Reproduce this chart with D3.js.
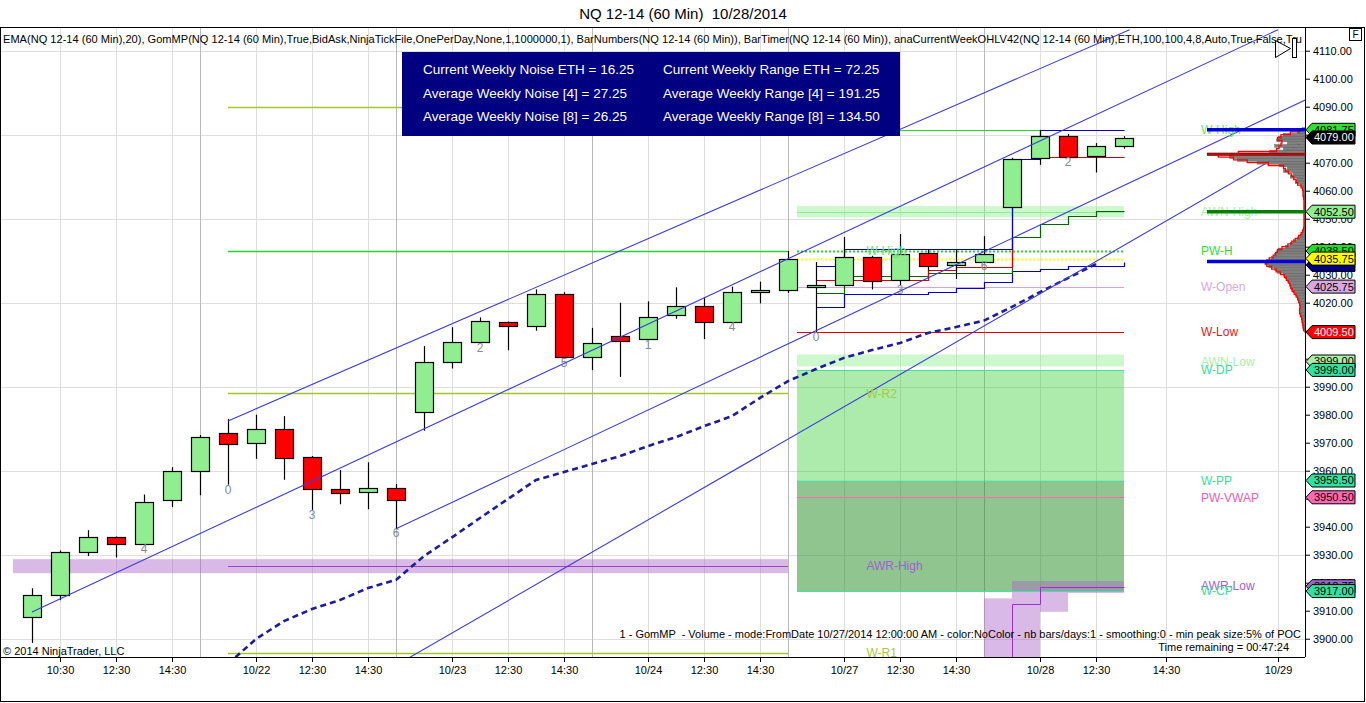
<!DOCTYPE html>
<html>
<head>
<meta charset="utf-8">
<script src="https://cdn.jsdelivr.net/npm/d3@7"></script>
<style>
  body { margin: 0; background: #fff; overflow: hidden; }
  text { font-family: "Liberation Sans", Arial, sans-serif; white-space: pre; }
</style>
</head>
<body>
<svg id="chart" width="1366" height="703"></svg>
<script>
// ---- bars (60 min, index 0 = first bar on screen) ----
var barOpen  = [3907.5,3915.5,3931,3936.25,3934,3949.5,3960,3973.5,3969.75,3975,3964.75,3953.5,3952.5,3954,
                3981,3998.75,4006,4013,4011.5,4023,4000.5,4008,4007,4015.5,4018.75,4013,4023.75,4024.5,
                4025.75,4026.5,4036.5,4028,4037.75,4033.5,4034.75,4054.5,4071.75,4079.5,4072.5,4076];
var barHigh  = [3918,3931.5,3938.75,3936.5,3951.5,3961.25,3972.75,3978.5,3980,3979.5,3965.25,3960.25,3963,3955.25,
                4004.5,4011.25,4014.75,4013.25,4024.75,4023.75,4011,4020,4020.5,4025.5,4022,4025.75,4027.5,4038.5,
                4034.5,4043.5,4036.75,4044.5,4039,4039,4043.75,4071.75,4081.75,4080.25,4077,4079.5];
var barLow   = [3898.5,3913.75,3929.5,3929,3934,3947,3951.25,3955,3964.25,3956.75,3946,3948,3946.25,3939.5,
                3974.25,3996.5,4005.5,4003,4010,4000.25,3996,3993.5,4006.75,4014.25,4007,4013,4019.75,4023.5,
                4009.5,4026.5,4024.75,4026.25,4031.5,4028.5,4034.75,4054.5,4069.25,4072,4066.5,4075];
var barClose = [3915.5,3931,3936.25,3933.75,3949,3960,3972,3969.75,3974.75,3964.5,3953.5,3952.25,3954,3949.75,
                3998.75,4006,4013.5,4011.5,4023,4000.5,4005.5,4006.25,4014.75,4018.75,4013,4023.75,4024.5,4035.5,
                4026.5,4036.5,4028,4037.25,4033,4034.5,4037.5,4071.5,4079.5,4072,4076,4079];

// bar numbers printed under some bars
var barNumIdx  = [4,7,10,13,16,19,22,25,28,31,34,37];
var barNumText = ["4","0","3","6","2","5","1","4","0","3","6","2"];

// EMA(20), bars 7..38
var emaStart = 7;
var emaVals = [3891,3899.9,3906.3,3910.6,3913.8,3918.1,3921,3929.5,3936.2,3943.1,3949.9,3956.7,3959.5,3962.4,
               3965.2,3968.8,3972,3975.9,3979.5,3986,3992,3996.3,4000.3,4003.1,4005.6,4009.2,4011.3,4013.6,
               4018.5,4023.8,4028.8,4033.8];

// x axis
var xTickIdx = [1,3,5,8,10,12,15,17,19,22,24,26,29,31,33,36,38,40.5,44.5];
var xTickLab = ["10:30","12:30","14:30","10/22","12:30","14:30","10/23","12:30","14:30","10/24","12:30","14:30",
                "10/27","12:30","14:30","10/28","12:30","14:30","10/29"];
var sessionBreaks = [6,13,20,27,34];

// y axis
var yTicks = [3900,3910,3920,3930,3940,3950,3960,3970,3980,3990,4000,4010,4020,4030,4040,4050,4060,4070,4080,4090,4100,4110];
var yGrid  = [3900,3930,3960,3990,4020,4050,4080,4110];

// hand drawn trend lines (bar index / price anchors)
var chanI0 = [7, 0, 13, 13];
var chanP0 = [3977.75, 3909.5, 3939.25, 3890.5];
var chanI1 = [39.2, 44.5, 45.5, 45.5];
var chanP1 = [4117.5, 4117.5, 4092.5, 4078];

// weekly levels
var prevWeekFrom = 7, prevWeekTo = 27;
var prevNames  = ["PW-R3","PW-H","W-R2","AWR-High","W-R1"];
var prevPrices = [4090, 4038.5, 3987.6, 3925.9, 3894.8];
var awrHighBand = [-0.68, 27, 3923.4, 3928.4];

var curFrom = 27.32, curTo = 39;
var curNames  = ["W-High","PW-H","PW-C","W-Open","W-Low","W-DP","W-PP","PW-VWAP","W-CP"];
var curPrices = [4081.75, 4038.5, 4035.75, 4025.75, 4009.5, 3996, 3956.5, 3950.5, 3917];
var awnHigh = [4050.5, 4054.5];
var awnLow  = [3997.25, 4001.5];

// AWR-Low projection pieces [i0, i1, priceLow, priceHigh]
var awrLowI0 = [34, 35, 36, 35];
var awrLowI1 = [35, 36, 37, 39];
var awrLowP0 = [3885, 3885, 3909.6, 3916.3];
var awrLowP1 = [3914.4, 3916.3, 3916.3, 3920.6];
var awrStepIdx = [35, 35, 36, 39];
var awrStepVal = [3885, 3912.25, 3918.5, 3918.5];

// developing weekly lines (step after, bar index -> price)
var blueHiIdx = [28, 29, 35, 36, 39];
var blueHiVal = [4033.1, 4039.3, 4071.4, 4081.75, 4081.75];
var blueLoIdx = [28, 29, 32, 33, 34, 35, 36, 37, 39];
var blueLoVal = [4018.6, 4023.1, 4023.7, 4025.4, 4027.3, 4031.4, 4032, 4033.2, 4034.4];
var greenIdx  = [28, 29, 32, 35, 36, 37, 38, 39];
var greenVal  = [4023.4, 4029.5, 4030.5, 4043.4, 4048.2, 4051, 4052.9, 4052.9];
var redIdx    = [28, 32, 33, 35, 36, 39];
var redVal    = [4028, 4031.6, 4032.8, 4071.2, 4072.1, 4072.1];

// labels
var midLabIdx = 29.8;
var midNames  = ["W-High","W-R2","AWR-High","W-R1"];
var midPrices = [4038.5, 3987.6, 3925.9, 3894.8];
var rightLabIdx = 41.75;
var rightNames  = ["W-High","AWN-High","PW-H","W-Open","W-Low","AWN-Low","W-DP","W-PP","PW-VWAP","AWR-Low","W-CP"];
var rightPrices = [4081.75, 4052.5, 4038.5, 4025.75, 4009.5, 3999, 3996, 3956.5, 3950.5, 3918.75, 3917];

// price tags on the axis (drawn in this order)
var tagPrices = [4081.75, 4038.5, 4033.5, 3999, 3918.75, 4079, 4052.5, 4035.75, 4025.75, 4009.5, 3996, 3956.5, 3950.5, 3917];
var tagNames  = ["W-High","PW-H","POC","AWN-Low","AWR-Low","Last","AWN-High","PW-C","W-Open","W-Low","W-DP","W-PP","PW-VWAP","W-CP"];

// volume profile (GomMP), 1 point rows from 4010, % of POC
var profStart = 4010;
var profVol = [1,2,2,3,3,4,5,6,5,5,6,7,8,10,12,14,15,16,18,20,22,28,31,37,41,39,34,31,29,27,20,15,12,8,5,3,2,1,
               1,1,1,1,1,1,1,1,1,1,2,2,2,3,5,10,8,15,12,22,18,26,49,69,77,100,36,22,31,18,29,27,22,8,3];
var profMarkPrices = [4081.75, 4073, 4052.5, 4034.75];
var profMarkNames  = ["W-High","POC","AWN-High","VA"];

var infoLeft  = ["Current Weekly Noise ETH = 16.25","Average Weekly Noise [4] = 27.25","Average Weekly Noise [8] = 26.25"];
var infoRight = ["Current Weekly Range ETH = 72.25","Average Weekly Range [4] = 191.25","Average Weekly Range [8] = 134.50"];

// ---- colours ----
var levelColor = {
  "PW-R3":"#a2c828","W-R2":"#a2c828","W-R1":"#a2c828","PW-H":"#2ed02e","AWR-High":"#a040d0",
  "W-High":"#2ed02e","AWN-High":"#90ee90","PW-C":"#ffff00","W-Open":"#dda0dd","W-Low":"#dd0000",
  "AWN-Low":"#90ee90","W-DP":"#3ce6a0","W-PP":"#3ce6a0","PW-VWAP":"#ff69b4","W-CP":"#3ce6a0",
  "AWR-Low":"#9932cc","POC":"#000080","Last":"#000000"
};
var labelColor = {
  "W-High":"#70e070","AWN-High":"#a8eea8","PW-H":"#33dd33","W-Open":"#d8a8e0","W-Low":"#e02020",
  "AWN-Low":"#a8eea8","W-DP":"#3cdc9a","W-PP":"#3cdc9a","PW-VWAP":"#f060a8","AWR-Low":"#a060d0",
  "W-CP":"#3cdc9a","W-R2":"#a8c840","W-R1":"#a8c840","AWR-High":"#a060d0"
};
var tagColor = {
  "W-High":"#33dd33","PW-H":"#22dd22","POC":"#000080","AWN-Low":"#a8f0a8","AWR-Low":"#9966cc","Last":"#000",
  "AWN-High":"#90ee90","PW-C":"#ffff00","W-Open":"#d8a8e0","W-Low":"#ff0000","W-DP":"#33e0a0","W-PP":"#33e0a0",
  "PW-VWAP":"#ff69b4","W-CP":"#33e0a0"
};

// ---- layout ----
var plot = {left: 1, top: 27, right: 1305, bottom: 657};
var svg = d3.select("#chart");

var x = d3.scaleLinear().domain([0, 45]).range([32, 1292]);
var y = d3.scaleLinear().domain([3900, 4110]).range([638.7, 50.7]);
var px = function(i) { return Math.round(x(i)) + 0.5; };
var py = function(p) { return Math.round(y(p)) + 0.5; };

svg.append("defs").append("clipPath").attr("id", "clip")
  .append("rect")
    .attr("x", plot.left).attr("y", plot.top)
    .attr("width", plot.right - plot.left).attr("height", plot.bottom - plot.top);

// title
svg.append("text")
  .attr("x", 683).attr("y", 19).attr("text-anchor", "middle")
  .style("font-size", "15px")
  .text("NQ 12-14 (60 Min)  10/28/2014");

var g = svg.append("g").attr("clip-path", "url(#clip)");

// grid
g.selectAll(".hgrid").data(yGrid).enter().append("line")
  .attr("x1", plot.left).attr("x2", plot.right)
  .attr("y1", py).attr("y2", py)
  .attr("stroke", "#dedede");
g.selectAll(".vgrid").data(xTickIdx).enter().append("line")
  .attr("x1", px).attr("x2", px)
  .attr("y1", plot.top).attr("y2", plot.bottom)
  .attr("stroke", "#dedede");
g.selectAll(".sgrid").data(sessionBreaks).enter().append("line")
  .attr("x1", px).attr("x2", px)
  .attr("y1", plot.top).attr("y2", plot.bottom)
  .attr("stroke", "#b9b9b9");

// zones of the current week
function zone(i0, i1, p0, p1, fill, op) {
  g.append("rect")
    .attr("x", x(i0)).attr("width", x(i1) - x(i0))
    .attr("y", y(Math.max(p0, p1))).attr("height", Math.abs(y(p0) - y(p1)))
    .attr("fill", fill).attr("opacity", op);
}
var pDP = curPrices[curNames.indexOf("W-DP")];
var pPP = curPrices[curNames.indexOf("W-PP")];
var pCP = curPrices[curNames.indexOf("W-CP")];
zone(curFrom, curTo, pDP, pPP, "#32cd32", 0.4);
zone(curFrom, curTo, pPP, pCP, "#228b22", 0.5);
zone(curFrom, curTo, awnHigh[0], awnHigh[1], "#90ee90", 0.45);
zone(curFrom, curTo, awnLow[0], awnLow[1], "#90ee90", 0.45);
zone(awrHighBand[0], awrHighBand[1], awrHighBand[2], awrHighBand[3], "#aa64c8", 0.45);
awrLowI0.forEach(function(d, k) {
  zone(awrLowI0[k], awrLowI1[k], awrLowP0[k], awrLowP1[k], "#aa64c8", 0.45);
});

// previous week levels
g.selectAll(".prev").data(prevNames).enter().append("line")
  .attr("x1", x(prevWeekFrom)).attr("x2", x(prevWeekTo))
  .attr("y1", function(d, k) { return py(prevPrices[k]); })
  .attr("y2", function(d, k) { return py(prevPrices[k]); })
  .attr("stroke", function(d) { return levelColor[d]; })
  .attr("stroke-width", function(d) { return d == "AWR-High" ? 1 : 1.4; });

// current week levels
g.selectAll(".cur").data(curNames).enter().append("line")
  .attr("x1", x(curFrom)).attr("x2", x(curTo))
  .attr("y1", function(d, k) { return py(curPrices[k]); })
  .attr("y2", function(d, k) { return py(curPrices[k]); })
  .attr("stroke", function(d) { return levelColor[d]; })
  .attr("stroke-width", function(d) { return (d == "PW-H" || d == "PW-C") ? 2 : 1.2; })
  .attr("stroke-dasharray", function(d) { return (d == "PW-H" || d == "PW-C") ? "2,2" : null; });
g.append("line")
  .attr("x1", x(curFrom)).attr("x2", x(curTo))
  .attr("y1", py(4052.5)).attr("y2", py(4052.5))
  .attr("stroke", "#90ee90");

// AWR-Low step
var stepLine = d3.line()
  .x(function(d) { return px(d[0]); })
  .y(function(d) { return py(d[1]); })
  .curve(d3.curveStepAfter);
g.append("path")
  .datum(d3.zip(awrStepIdx, awrStepVal))
  .attr("d", stepLine)
  .attr("fill", "none").attr("stroke", "#9932cc");

// developing lines
[[blueLoIdx, blueLoVal, "#0000c8"], [greenIdx, greenVal, "#006400"],
 [redIdx, redVal, "#d00000"], [blueHiIdx, blueHiVal, "#0000c8"]].forEach(function(s) {
  g.append("path")
    .datum(d3.zip(s[0], s[1]))
    .attr("d", stepLine)
    .attr("fill", "none").attr("stroke", s[2]).attr("stroke-width", 1.2);
});

// EMA
g.append("path")
  .datum(emaVals)
  .attr("d", d3.line()
    .x(function(d, k) { return x(emaStart + k); })
    .y(function(d) { return y(d); }))
  .attr("fill", "none")
  .attr("stroke", "#1c1c9c")
  .attr("stroke-width", 2.6)
  .attr("stroke-dasharray", "6,4");

// candles
var bars = barOpen.map(function(o, i) {
  return {i: i, o: o, h: barHigh[i], l: barLow[i], c: barClose[i]};
});
var bw = 18;
var cg = g.selectAll(".candle").data(bars).enter().append("g");
cg.append("line")
  .attr("x1", function(d) { return px(d.i); })
  .attr("x2", function(d) { return px(d.i); })
  .attr("y1", function(d) { return y(d.h); })
  .attr("y2", function(d) { return y(d.l); })
  .attr("stroke", "#000").attr("stroke-width", 1.2);
cg.append("rect")
  .attr("x", function(d) { return Math.round(x(d.i)) - bw / 2 + 0.5; })
  .attr("y", function(d) { return Math.round(y(Math.max(d.o, d.c))) + 0.5; })
  .attr("width", bw)
  .attr("height", function(d) { return Math.max(2, Math.round(Math.abs(y(d.o) - y(d.c)))); })
  .attr("fill", function(d) { return d.c >= d.o ? "#90ee90" : "#ff0000"; })
  .attr("stroke", "#000").attr("stroke-width", 1.2);

// bar numbers
g.selectAll(".bnum").data(barNumIdx).enter().append("text")
  .attr("x", function(d) { return x(d); })
  .attr("y", function(d) { return y(barLow[d]) + 9; })
  .attr("text-anchor", "middle")
  .style("font-size", "12px").attr("fill", "#8a8a8a")
  .text(function(d, k) { return barNumText[k]; });

// channel lines
g.selectAll(".chan").data(chanI0).enter().append("line")
  .attr("x1", function(d) { return x(d); })
  .attr("y1", function(d, k) { return y(chanP0[k]); })
  .attr("x2", function(d, k) { return x(chanI1[k]); })
  .attr("y2", function(d, k) { return y(chanP1[k]); })
  .attr("stroke", "#3c3cdc").attr("stroke-width", 1.1);

// labels in the middle and right
g.selectAll(".mlab").data(midNames).enter().append("text")
  .attr("x", x(midLabIdx))
  .attr("y", function(d, k) { return y(midPrices[k]); })
  .attr("dy", "0.35em")
  .style("font-size", "12px")
  .attr("fill", function(d) { return labelColor[d]; })
  .text(function(d) { return d; });
g.selectAll(".rlab").data(rightNames).enter().append("text")
  .attr("x", x(rightLabIdx))
  .attr("y", function(d, k) { return y(rightPrices[k]); })
  .attr("dy", "0.35em")
  .style("font-size", "12px")
  .attr("fill", function(d) { return labelColor[d]; })
  .text(function(d) { return d; });

// volume profile
var pw = d3.scaleLinear().domain([0, 100]).range([0, 98]);
var rowH = y(0) - y(1);
var prof = profVol.map(function(v, k) { return {p: profStart + k, v: v}; });
g.selectAll(".prow").data(prof).enter().append("rect")
  .attr("x", function(d) { return plot.right - pw(d.v); })
  .attr("y", function(d) { return y(d.p + 0.5); })
  .attr("width", function(d) { return pw(d.v); })
  .attr("height", rowH)
  .attr("fill", function(d) { return d.v == 100 ? "#3a0000" : "#808080"; })
  .attr("stroke", "#555").attr("stroke-width", 0.4);
g.append("path")
  .datum(prof)
  .attr("d", d3.line()
    .x(function(d) { return plot.right - pw(d.v); })
    .y(function(d) { return y(d.p); })
    .curve(d3.curveStep))
  .attr("fill", "none").attr("stroke", "#ff0000").attr("stroke-width", 1.3);

var markColor = {"W-High":"#0000dd","POC":"#cc0000","AWN-High":"#008000","VA":"#0000dd"};
g.selectAll(".pmark").data(profMarkNames).enter().append("line")
  .attr("x1", plot.right - pw(100)).attr("x2", plot.right)
  .attr("y1", function(d, k) { return y(profMarkPrices[k]); })
  .attr("y2", function(d, k) { return y(profMarkPrices[k]); })
  .attr("stroke", function(d) { return markColor[d]; })
  .attr("stroke-width", function(d) { return d == "POC" ? 2 : 3.5; });

// info box
var box = svg.append("g");
box.append("rect")
  .attr("x", 402).attr("y", 52).attr("width", 498).attr("height", 84)
  .attr("fill", "#000080");
[infoLeft, infoRight].forEach(function(col, c) {
  box.selectAll(".info" + c).data(col).enter().append("text")
    .attr("x", c == 0 ? 423 : 663)
    .attr("y", function(d, k) { return 74 + k * 23.5; })
    .style("font-size", "13.5px").attr("fill", "#fff")
    .text(function(d) { return d; });
});

// indicator line & footers
svg.append("text")
  .attr("x", 3).attr("y", 43)
  .attr("textLength", 1299).attr("lengthAdjust", "spacingAndGlyphs")
  .style("font-size", "11px")
  .text("EMA(NQ 12-14 (60 Min),20), GomMP(NQ 12-14 (60 Min),True,BidAsk,NinjaTickFile,OnePerDay,None,1,1000000,1), BarNumbers(NQ 12-14 (60 Min)), BarTimer(NQ 12-14 (60 Min)), anaCurrentWeekOHLV42(NQ 12-14 (60 Min),ETH,100,100,4,8,Auto,True,False,Tru");
svg.append("text")
  .attr("x", 3).attr("y", 655)
  .style("font-size", "11px")
  .text("\u00a9 2014 NinjaTrader, LLC");
svg.append("text")
  .attr("x", 1301).attr("y", 638).attr("text-anchor", "end")
  .style("font-size", "11px")
  .text("1 - GomMP  - Volume - mode:FromDate 10/27/2014 12:00:00 AM - color:NoColor - nb bars/days:1 - smoothing:0 - min peak size:5% of POC");
svg.append("text")
  .attr("x", 1289).attr("y", 651).attr("text-anchor", "end")
  .style("font-size", "11px")
  .text("Time remaining = 00:47:24");

// small controls top right
svg.append("path")
  .attr("d", "M1275.5,40.5 L1290.5,48.5 L1275.5,57.5 Z")
  .attr("fill", "none").attr("stroke", "#000");
svg.append("rect")
  .attr("x", 1292.5).attr("y", 38.5).attr("width", 4).attr("height", 19)
  .attr("fill", "#fff").attr("stroke", "#000");
svg.append("rect")
  .attr("x", 1349.5).attr("y", 28.5).attr("width", 12).attr("height", 12)
  .attr("fill", "#fff").attr("stroke", "#000");
svg.append("text")
  .attr("x", 1355.5).attr("y", 38).attr("text-anchor", "middle")
  .style("font-size", "10px").text("F");

// axes
var yAxis = svg.append("g")
  .attr("transform", "translate(" + plot.right + ",0)")
  .call(d3.axisRight(y).tickValues(yTicks).tickFormat(d3.format(".2f")).tickSize(5).tickPadding(3));
var xAxis = svg.append("g")
  .attr("transform", "translate(0," + plot.bottom + ")")
  .call(d3.axisBottom(x).tickValues(xTickIdx)
    .tickFormat(function(d, k) { return xTickLab[k]; }).tickSize(5).tickPadding(4));
[yAxis, xAxis].forEach(function(a) {
  a.select(".domain").remove();
  a.selectAll("text").style("font-size", "11px").style("font-family", "'Liberation Sans', Arial, sans-serif").attr("fill", "#000");
  a.selectAll("line").attr("stroke", "#000");
});

// price tags
var tags = svg.selectAll(".tag").data(tagNames).enter().append("g")
  .attr("transform", function(d, k) { return "translate(0," + y(tagPrices[k]) + ")"; });
tags.append("path")
  .attr("d", "M1306,0 L1312,-6.5 L1355,-6.5 L1355,6.5 L1312,6.5 Z")
  .attr("fill", function(d) { return tagColor[d]; })
  .attr("stroke", "#000");
tags.filter(function(d) { return d != "POC"; }).append("text")
  .attr("x", 1314).attr("dy", "0.36em")
  .style("font-size", "11px")
  .attr("fill", function(d) { return (d == "Last" || d == "W-Low") ? "#fff" : "#000"; })
  .text(function(d) { return d3.format(".2f")(tagPrices[tagNames.indexOf(d)]); });

// frames
svg.append("rect")
  .attr("x", 0.5).attr("y", 27.5).attr("width", 1364).attr("height", 674)
  .attr("fill", "none").attr("stroke", "#000");
svg.append("line")
  .attr("x1", plot.right + 0.5).attr("x2", plot.right + 0.5)
  .attr("y1", plot.top).attr("y2", plot.bottom)
  .attr("stroke", "#000");
svg.append("line")
  .attr("x1", 0).attr("x2", plot.right)
  .attr("y1", plot.bottom + 0.5).attr("y2", plot.bottom + 0.5)
  .attr("stroke", "#000");
</script>
</body>
</html>
